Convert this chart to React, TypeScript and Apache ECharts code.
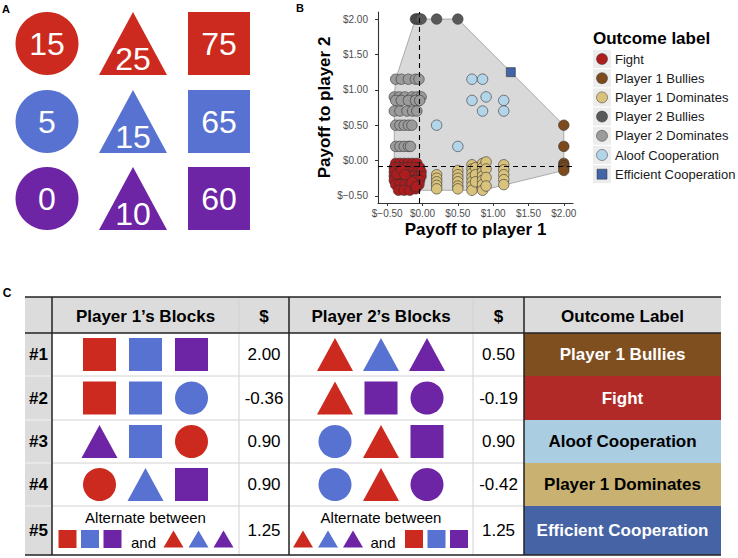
import React, { useEffect, useRef } from "react";
import * as echarts from "echarts";

const FONT = "'Liberation Sans', Arial, Helvetica, sans-serif";

// ---------- Panel A data ----------
const blockColors = ["#CC2A1E", "#5872D1", "#6D24A5"];
const blockShapes = ["circle", "triangle", "square"];
const blockValues = [
  [15, 25, 75],
  [5, 15, 65],
  [0, 10, 60],
];

// ---------- Panel B data ----------
const outcomeNames = [
  "Fight",
  "Player 1 Bullies",
  "Player 1 Dominates",
  "Player 2 Bullies",
  "Player 2 Dominates",
  "Aloof Cooperation",
  "Efficient Cooperation",
];
const outcomeColors = ["#AE1C1E", "#7D4A1C", "#D9C27C", "#595959", "#9B9B9B", "#B2D5EA", "#4264A8"];

const fightPts: [number, number][] = [
  [-0.38, -0.04], [-0.32, -0.04], [-0.26, -0.04], [-0.2, -0.04], [-0.14, -0.04], [-0.08, -0.04],
  [-0.4, -0.1], [-0.34, -0.1], [-0.28, -0.1], [-0.22, -0.1], [-0.16, -0.1], [-0.1, -0.1], [-0.04, -0.1],
  [-0.4, -0.16], [-0.33, -0.16], [-0.27, -0.16], [-0.2, -0.16], [-0.13, -0.16], [-0.07, -0.16], [-0.02, -0.16],
  [-0.4, -0.22], [-0.34, -0.22], [-0.28, -0.22], [-0.19, -0.22], [-0.12, -0.22], [-0.05, -0.22], [-0.02, -0.22],
  [-0.4, -0.28], [-0.31, -0.28], [-0.24, -0.28], [-0.17, -0.28], [-0.1, -0.28], [-0.04, -0.28],
  [-0.38, -0.34], [-0.32, -0.34], [-0.25, -0.34], [-0.18, -0.34], [-0.11, -0.34], [-0.05, -0.34],
  [-0.34, -0.42], [-0.26, -0.42], [-0.18, -0.42], [-0.1, -0.4],
  [-0.36, -0.19], [-0.3, -0.13], [-0.15, -0.3], [-0.09, -0.37], [-0.25, -0.2],
];
const p1BulliesPts: [number, number][] = [
  [2.0, 0.5], [2.0, 0.2], [2.0, -0.04], [2.0, -0.07], [2.0, -0.1], [2.0, -0.14],
];
const p1DominatesPts: [number, number][] = [
  [0.2, -0.2], [0.2, -0.25], [0.2, -0.3], [0.2, -0.35], [0.2, -0.4],
  [0.5, -0.14], [0.5, -0.2], [0.5, -0.25], [0.5, -0.3], [0.5, -0.36], [0.5, -0.4],
  [0.7, -0.06], [0.7, -0.12], [0.7, -0.18], [0.7, -0.24], [0.7, -0.3], [0.7, -0.36], [0.7, -0.42],
  [0.75, -0.1], [0.75, -0.2], [0.75, -0.3],
  [0.85, -0.04], [0.85, -0.1], [0.85, -0.16], [0.85, -0.22], [0.85, -0.28], [0.85, -0.34], [0.85, -0.42],
  [0.9, -0.02], [0.9, -0.12], [0.9, -0.24], [0.9, -0.36],
  [1.15, -0.06], [1.15, -0.13], [1.15, -0.2], [1.15, -0.27], [1.15, -0.34],
];
const p2BulliesPts: [number, number][] = [
  [-0.1, 2.0], [-0.08, 2.0], [-0.06, 2.0], [-0.04, 2.0], [-0.02, 2.0], [0.2, 2.0], [0.5, 2.0],
];
const p2DominatesPts: [number, number][] = [
  [-0.38, 1.15], [-0.3, 1.15], [-0.2, 1.15], [-0.1, 1.15], [-0.05, 1.15],
  [-0.4, 0.9], [-0.33, 0.9], [-0.25, 0.9], [-0.15, 0.9], [-0.08, 0.9], [-0.02, 0.9],
  [-0.38, 0.85], [-0.3, 0.85], [-0.2, 0.85], [-0.1, 0.85], [-0.04, 0.85],
  [-0.4, 0.7], [-0.32, 0.7], [-0.22, 0.7], [-0.14, 0.7], [-0.08, 0.7],
  [-0.38, 0.5], [-0.32, 0.5], [-0.26, 0.5], [-0.2, 0.5], [-0.15, 0.5],
  [-0.38, 0.2], [-0.32, 0.2], [-0.26, 0.2], [-0.2, 0.2], [-0.17, 0.2],
];
const aloofPts: [number, number][] = [
  [0.7, 1.15], [0.85, 1.15], [0.7, 0.85], [0.9, 0.9], [0.85, 0.7], [1.15, 0.85], [1.15, 0.7], [0.2, 0.5], [0.5, 0.2],
];
const efficientPts: [number, number][] = [[1.25, 1.25]];
const outcomePts = [fightPts, p1BulliesPts, p1DominatesPts, p2BulliesPts, p2DominatesPts, aloofPts, efficientPts];

const refLineX = -0.05;
const refLineY = -0.08;
const tickValues = [-0.5, 0, 0.5, 1, 1.5, 2];

// ---------- Panel C data ----------
const tableHeaders = ["", "Player 1\u2019s Blocks", "$", "Player 2\u2019s Blocks", "$", "Outcome Label"];
const rowLabels = ["#1", "#2", "#3", "#4", "#5"];
const p1Blocks = [
  ["square:red", "square:blue", "square:purple"],
  ["square:red", "square:blue", "circle:blue"],
  ["triangle:purple", "square:blue", "circle:red"],
  ["circle:red", "triangle:blue", "square:purple"],
];
const p2Blocks = [
  ["triangle:red", "triangle:blue", "triangle:purple"],
  ["triangle:red", "square:purple", "circle:purple"],
  ["circle:blue", "triangle:red", "square:purple"],
  ["circle:blue", "triangle:red", "circle:purple"],
];
const p1Alternate = [
  ["square:red", "square:blue", "square:purple"],
  ["triangle:red", "triangle:blue", "triangle:purple"],
];
const p2Alternate = [
  ["triangle:red", "triangle:blue", "triangle:purple"],
  ["square:red", "square:blue", "square:purple"],
];
const p1Pay = ["2.00", "-0.36", "0.90", "0.90", "1.25"];
const p2Pay = ["0.50", "-0.19", "0.90", "-0.42", "1.25"];
const outcomeLabels = ["Player 1 Bullies", "Fight", "Aloof Cooperation", "Player 1 Dominates", "Efficient Cooperation"];
const outcomeBg = ["#7F4F1F", "#B22A27", "#ABCDE1", "#C9B172", "#4563A5"];
const outcomeFg = ["#ffffff", "#ffffff", "#000000", "#000000", "#ffffff"];

const colorMap: Record<string, string> = { red: blockColors[0], blue: blockColors[1], purple: blockColors[2] };

function shapeEl(spec: string, cx: number, cy: number, size: number, tri?: { w: number; h: number }) {
  const [kind, col] = spec.split(":");
  const fill = colorMap[col] || col;
  if (kind === "square") {
    return { type: "rect", shape: { x: cx - size / 2, y: cy - size / 2, width: size, height: size }, style: { fill } };
  }
  if (kind === "circle") {
    return { type: "circle", shape: { cx, cy, r: size / 2 }, style: { fill } };
  }
  const w = tri ? tri.w : size * 1.1;
  const h = tri ? tri.h : size;
  return {
    type: "polygon",
    shape: { points: [[cx, cy - h / 2], [cx + w / 2, cy + h / 2], [cx - w / 2, cy + h / 2]] },
    style: { fill },
  };
}

function convexHull(pts: [number, number][]) {
  const p = pts.slice().sort((a, b) => (a[0] === b[0] ? a[1] - b[1] : a[0] - b[0]));
  const cross = (o: number[], a: number[], b: number[]) => (a[0] - o[0]) * (b[1] - o[1]) - (a[1] - o[1]) * (b[0] - o[0]);
  const lower: [number, number][] = [];
  for (const q of p) {
    while (lower.length >= 2 && cross(lower[lower.length - 2], lower[lower.length - 1], q) <= 0) lower.pop();
    lower.push(q);
  }
  const upper: [number, number][] = [];
  for (let i = p.length - 1; i >= 0; i--) {
    const q = p[i];
    while (upper.length >= 2 && cross(upper[upper.length - 2], upper[upper.length - 1], q) <= 0) upper.pop();
    upper.push(q);
  }
  upper.pop();
  lower.pop();
  return lower.concat(upper);
}

function fmtDollar(v: number) {
  const s = Math.abs(v).toFixed(2);
  return v < 0 ? "$\u2212" + s : "$" + s;
}

export default function App() {
  const ref = useRef<HTMLDivElement>(null);
  useEffect(() => {
    if (!ref.current) return;
    const chart = echarts.init(ref.current, null, { renderer: "svg" });
    const graphics: any[] = [];

    // Panel labels
    graphics.push({ type: "text", x: 6, y: 9, style: { text: "A", font: `bold 11px ${FONT}`, fill: "#000", align: "center", verticalAlign: "middle" } });
    graphics.push({ type: "text", x: 300, y: 8, style: { text: "B", font: `bold 11px ${FONT}`, fill: "#000", align: "center", verticalAlign: "middle" } });
    graphics.push({ type: "text", x: 7, y: 293, style: { text: "C", font: `bold 12px ${FONT}`, fill: "#000", align: "center", verticalAlign: "middle" } });

    // Panel A
    const aRowTop = [12, 90, 167];
    const aColCenter = [47, 133, 219];
    blockValues.forEach((row, ri) => {
      const top = aRowTop[ri];
      const fill = blockColors[ri];
      row.forEach((val, ci) => {
        const shape = blockShapes[ci];
        const cx = aColCenter[ci];
        let ty = top + 31.5;
        if (shape === "circle") {
          graphics.push({ type: "circle", shape: { cx, cy: top + 31.5, r: 31.5 }, style: { fill } });
        } else if (shape === "triangle") {
          graphics.push({ type: "polygon", shape: { points: [[cx, top], [cx + 34, top + 63], [cx - 34, top + 63]] }, style: { fill } });
          ty = top + 47;
        } else {
          graphics.push({ type: "rect", shape: { x: cx - 31, y: top, width: 62, height: 63 }, style: { fill } });
        }
        graphics.push({ type: "text", x: cx, y: ty, style: { text: String(val), font: `32px ${FONT}`, fill: "#fff", align: "center", verticalAlign: "middle" } });
      });
    });

    // Legend for panel B
    graphics.push({ type: "text", x: 593, y: 38, style: { text: "Outcome label", font: `bold 17px ${FONT}`, fill: "#000", align: "left", verticalAlign: "middle" } });
    outcomeNames.forEach((name, i) => {
      const cy = 59 + i * 19.2;
      graphics.push({ type: "rect", shape: { x: 593, y: cy - 9, width: 18, height: 18 }, style: { fill: "#ededed" } });
      if (i === outcomeNames.length - 1) {
        graphics.push({ type: "rect", shape: { x: 597, y: cy - 5, width: 10, height: 10 }, style: { fill: outcomeColors[i], stroke: "#333", lineWidth: 0.5 } });
      } else {
        graphics.push({ type: "circle", shape: { cx: 602, cy, r: 5.5 }, style: { fill: outcomeColors[i], stroke: "#333", lineWidth: 0.5 } });
      }
      graphics.push({ type: "text", x: 615, y: cy, style: { text: name, font: `13px ${FONT}`, fill: "#1a1a1a", align: "left", verticalAlign: "middle" } });
    });

    // Panel C table
    const colX = [25, 52, 239, 289, 473, 524, 721];
    const rowY = [297, 333, 376, 420, 463, 506, 555];
    const gray = "#dcdcdc";
    graphics.push({ type: "rect", shape: { x: colX[0], y: rowY[0], width: colX[6] - colX[0], height: rowY[1] - rowY[0] }, style: { fill: gray } });
    graphics.push({ type: "rect", shape: { x: colX[0], y: rowY[1], width: colX[1] - colX[0], height: rowY[6] - rowY[1] }, style: { fill: gray } });
    outcomeLabels.forEach((lab, i) => {
      const y0 = rowY[i + 1];
      const y1 = rowY[i + 2];
      graphics.push({ type: "rect", shape: { x: colX[5], y: y0, width: colX[6] - colX[5], height: y1 - y0 }, style: { fill: outcomeBg[i] } });
      graphics.push({ type: "text", x: (colX[5] + colX[6]) / 2, y: (y0 + y1) / 2, style: { text: lab, font: `bold 17px ${FONT}`, fill: outcomeFg[i], align: "center", verticalAlign: "middle" } });
    });
    const thin = "#d2d2d2";
    for (let i = 2; i <= 5; i++) {
      graphics.push({ type: "line", shape: { x1: colX[1], y1: rowY[i], x2: colX[5], y2: rowY[i] }, style: { stroke: thin, lineWidth: 1 } });
      graphics.push({ type: "line", shape: { x1: colX[0], y1: rowY[i], x2: colX[1], y2: rowY[i] }, style: { stroke: "#f2f2f2", lineWidth: 1 } });
    }
    [2, 4].forEach((c) => {
      graphics.push({ type: "line", shape: { x1: colX[c], y1: rowY[0], x2: colX[c], y2: rowY[6] }, style: { stroke: thin, lineWidth: 1 } });
    });
    const thick = "#222";
    [0, 1, 6].forEach((r) => {
      graphics.push({ type: "line", shape: { x1: colX[0], y1: rowY[r], x2: colX[6], y2: rowY[r] }, style: { stroke: thick, lineWidth: 1.5 } });
    });
    [1, 3, 5].forEach((c) => {
      graphics.push({ type: "line", shape: { x1: colX[c], y1: rowY[0], x2: colX[c], y2: rowY[6] }, style: { stroke: thick, lineWidth: 1.5 } });
    });
    tableHeaders.forEach((h, c) => {
      if (!h) return;
      graphics.push({ type: "text", x: (colX[c] + colX[c + 1]) / 2, y: (rowY[0] + rowY[1]) / 2 + 1, style: { text: h, font: `bold 17px ${FONT}`, fill: "#000", align: "center", verticalAlign: "middle" } });
    });
    rowLabels.forEach((lab, i) => {
      const y0 = rowY[i + 1];
      const y1 = rowY[i + 2];
      const cy = (y0 + y1) / 2;
      graphics.push({ type: "text", x: (colX[0] + colX[1]) / 2, y: cy, style: { text: lab, font: `bold 17px ${FONT}`, fill: "#000", align: "center", verticalAlign: "middle" } });
      graphics.push({ type: "text", x: (colX[2] + colX[3]) / 2, y: cy, style: { text: p1Pay[i], font: `17px ${FONT}`, fill: "#000", align: "center", verticalAlign: "middle" } });
      graphics.push({ type: "text", x: (colX[4] + colX[5]) / 2, y: cy, style: { text: p2Pay[i], font: `17px ${FONT}`, fill: "#000", align: "center", verticalAlign: "middle" } });
      const blockSets = [p1Blocks[i], p2Blocks[i]];
      const centers = [(colX[1] + colX[2]) / 2, (colX[3] + colX[4]) / 2];
      blockSets.forEach((set, k) => {
        if (set) {
          set.forEach((spec, j) => {
            graphics.push(shapeEl(spec, centers[k] + (j - 1) * 46, cy, 33, { w: 36, h: 33 }));
          });
        }
      });
      if (!p1Blocks[i]) {
        const alts = [p1Alternate, p2Alternate];
        alts.forEach((alt, k) => {
          const c = centers[k];
          graphics.push({ type: "text", x: c, y: 517, style: { text: "Alternate between", font: `15px ${FONT}`, fill: "#000", align: "center", verticalAlign: "middle" } });
          graphics.push({ type: "text", x: c + (k === 0 ? -2 : 2), y: 542, style: { text: "and", font: `15px ${FONT}`, fill: "#000", align: "center", verticalAlign: "middle" } });
          const sp = (s: string) => (s.startsWith("triangle") ? 25 : 22.5);
          alt[0].forEach((spec, j) => {
            graphics.push(shapeEl(spec, c - 78 + j * sp(spec), 539, 18, { w: 20, h: 17 }));
          });
          alt[1].forEach((spec, j) => {
            graphics.push(shapeEl(spec, c + 78 - (2 - j) * sp(spec), 539, 18, { w: 20, h: 17 }));
          });
        });
      }
    });

    const allPts: [number, number][] = ([] as [number, number][]).concat(...outcomePts);
    const hull = convexHull(allPts);

    const series: any[] = [
      {
        type: "custom",
        silent: true,
        z: 1,
        data: [[0, 0]],
        renderItem: (_p: any, api: any) => ({
          type: "polygon",
          shape: { points: hull.map((h) => api.coord(h)) },
          style: { fill: "#d9d9d9", stroke: "#9a9a9a", lineWidth: 0.8 },
        }),
      },
    ];
    outcomeNames.forEach((name, i) => {
      series.push({
        type: "scatter",
        name,
        data: outcomePts[i],
        symbol: i === outcomeNames.length - 1 ? "rect" : "circle",
        symbolSize: i === outcomeNames.length - 1 ? 9 : 10.5,
        itemStyle: { color: outcomeColors[i], borderColor: "#333", borderWidth: 0.6, opacity: 1 },
        z: 3,
      });
    });
    series.push({
      type: "line",
      data: [],
      z: 5,
      markLine: {
        silent: true,
        symbol: "none",
        label: { show: false },
        lineStyle: { type: [5, 4], color: "#000", width: 1.1 },
        data: [{ xAxis: refLineX }, { yAxis: refLineY }],
        z: 5,
      },
    });

    const axisCommon = {
      type: "value",
      splitLine: { show: false },
      axisLine: { show: true, onZero: false, lineStyle: { color: "#333", width: 1.1 } },
      axisTick: { show: true, length: 3, lineStyle: { color: "#333" }, customValues: tickValues },
      axisLabel: { color: "#4d4d4d", fontSize: 10, fontFamily: FONT, formatter: (v: number) => fmtDollar(v), customValues: tickValues },
      nameLocation: "middle",
      nameTextStyle: { fontFamily: FONT, fontSize: 17, fontWeight: "bold", color: "#000" },
    };

    chart.setOption({
      animation: false,
      grid: { left: 378, top: 12, width: 195, height: 191, containLabel: false },
      xAxis: { ...axisCommon, min: -0.63, max: 2.13, name: "Payoff to player 1", nameGap: 18, axisLabel: { ...axisCommon.axisLabel, margin: 5 } },
      yAxis: { ...axisCommon, min: -0.6, max: 2.1, name: "Payoff to player 2", nameGap: 44, nameRotate: 90, axisLabel: { ...axisCommon.axisLabel, margin: 10 } },
      series,
      graphic: { elements: graphics },
    });
    return () => chart.dispose();
  }, []);
  return <div ref={ref} style={{ position: "absolute", left: 0, top: 0, width: 738, height: 558 }} />;
}
